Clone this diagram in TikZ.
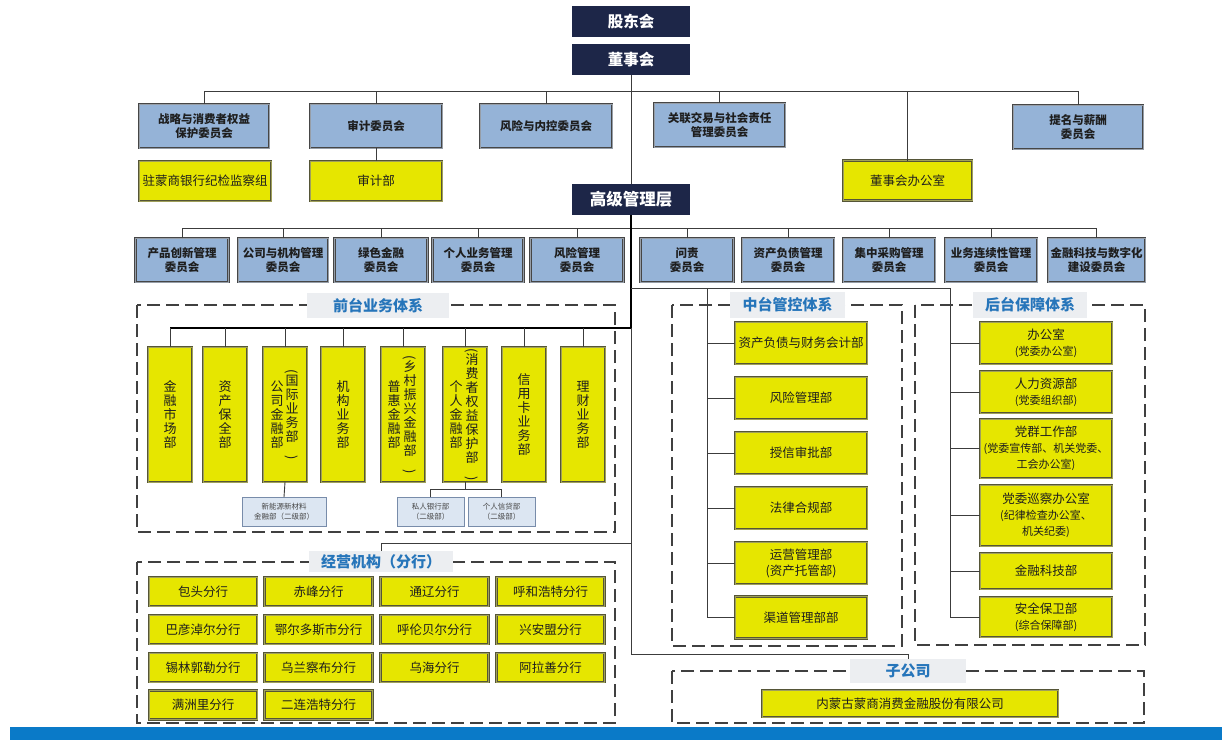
\documentclass[tikz,border=0pt]{standalone}
\usepackage{fontspec}
\usepackage{graphicx}
\newfontfamily\cjk{Noto Sans CJK SC}
\definecolor{navy}{RGB}{29,38,72}
\definecolor{cblue}{RGB}{149,179,215}
\definecolor{cbord}{RGB}{70,70,70}
\definecolor{cdbl}{RGB}{150,158,168}
\definecolor{yel}{RGB}{230,230,0}
\definecolor{ybord}{RGB}{85,85,55}
\definecolor{ydbl}{RGB}{160,160,90}
\definecolor{sblue}{RGB}{220,230,242}
\definecolor{sbord}{RGB}{120,140,170}
\definecolor{stxt}{RGB}{70,70,70}
\definecolor{txt}{RGB}{30,30,30}
\definecolor{ttl}{RGB}{38,117,186}
\definecolor{tbg}{RGB}{236,238,241}
\definecolor{ln}{RGB}{60,60,60}
\definecolor{frm}{RGB}{64,64,64}
\definecolor{barblue}{RGB}{10,122,200}
\newcommand\smf{\fontsize{11}{15}\selectfont}
\newcommand\vlp{\rotatebox{-90}{(}}
\newcommand\vrp{\rotatebox{-90}{)}}
\tikzset{
 every node/.style={inner sep=0pt, outer sep=0pt},
 nbox/.style={fill=navy, text=white, font={\cjk\bfseries\fontsize{15.5}{18}\selectfont}, minimum width=118pt, minimum height=31pt},
 cbox/.style={fill=cblue, draw=cbord, double=cdbl, line width=0.6pt, double distance=1pt, align=center, text=txt, font={\cjk\bfseries\fontsize{11.5}{14.5}\selectfont}},
 ybox/.style={fill=yel, draw=ybord, double=ydbl, line width=0.6pt, double distance=1pt, align=center, text=txt, font={\cjk\fontsize{12.5}{16}\selectfont}},
 vtxt/.style={align=center, text=txt, font={\cjk\fontsize{13}{14}\selectfont}},
 sbox/.style={fill=sblue, draw=sbord, line width=0.6pt, align=center, text=stxt, font={\cjk\fontsize{7.5}{10}\selectfont}},
 tbox/.style={fill=tbg, text=ttl, font={\cjk\bfseries\fontsize{15}{18}\selectfont}},
 conn/.style={draw=ln, line width=0.9pt},
 spine/.style={draw=black, line width=1.8pt},
 dframe/.style={draw=frm, line width=1.6pt, dash pattern=on 13pt off 6pt},
}
\begin{document}
\begin{tikzpicture}[x=1pt,y=-1pt]
\fill[white] (0,0) rectangle (1222,740);
\useasboundingbox (0,0) rectangle (1222,740);

% dashed frames
\draw[dframe] (137,305) rectangle (615,532);
\draw[dframe] (672,305) rectangle (902,646);
\draw[dframe] (915,305) rectangle (1145,645);
\draw[dframe] (137,562) rectangle (615,723);
\draw[dframe] (672,671) rectangle (1144,723);

% top
\node[nbox] (gd) at (631,21.5) {股东会};
\node[nbox] (dsh) at (631,59.5) {董事会};
\node[nbox, font={\cjk\bfseries\fontsize{16.5}{19}\selectfont}] (gj) at (631,199.5) {高级管理层};

% board committees
\node[cbox, minimum width=130pt, minimum height=44pt] (c1) at (204,126) {战略与消费者权益\\保护委员会};
\node[cbox, minimum width=132pt, minimum height=44pt] (c2) at (376,126) {审计委员会};
\node[cbox, minimum width=132pt, minimum height=44pt] (c3) at (546,126) {风险与内控委员会};
\node[cbox, minimum width=131pt, minimum height=44pt] (c4) at (719.5,125) {关联交易与社会责任\\管理委员会};
\node[cbox, minimum width=130pt, minimum height=44pt] (c5) at (1078,127) {提名与薪酬\\委员会};

\node[ybox, minimum width=132pt, minimum height=40pt] (y1) at (205,181) {驻蒙商银行纪检监察组};
\node[ybox, minimum width=132pt, minimum height=40pt] (y2) at (376,181) {审计部};
\node[ybox, minimum width=129pt, minimum height=40pt] (y3) at (907.5,180.5) {董事会办公室};

% management committees
\node[cbox, minimum width=93pt, minimum height=44pt] (m1) at (182,260) {产品创新管理\\委员会};
\node[cbox, minimum width=90pt, minimum height=44pt] (m2) at (283,260) {公司与机构管理\\委员会};
\node[cbox, minimum width=93pt, minimum height=44pt] (m3) at (381,260) {绿色金融\\委员会};
\node[cbox, minimum width=91pt, minimum height=44pt] (m4) at (478,260) {个人业务管理\\委员会};
\node[cbox, minimum width=93pt, minimum height=44pt] (m5) at (577,260) {风险管理\\委员会};
\node[cbox, minimum width=93pt, minimum height=44pt] (m6) at (687,260) {问责\\委员会};
\node[cbox, minimum width=92pt, minimum height=44pt] (m7) at (788,260) {资产负债管理\\委员会};
\node[cbox, minimum width=92pt, minimum height=44pt] (m8) at (889,260) {集中采购管理\\委员会};
\node[cbox, minimum width=92pt, minimum height=44pt] (m9) at (991,260) {业务连续性管理\\委员会};
\node[cbox, minimum width=97pt, minimum height=44pt] (m10) at (1096.5,260) {金融科技与数字化\\建设委员会};

% front office
\node[ybox, minimum width=44pt, minimum height=135pt] (f1) at (170,414.5) {};
\node[ybox, minimum width=44pt, minimum height=135pt] (f2) at (225,414.5) {};
\node[ybox, minimum width=44pt, minimum height=135pt] (f3) at (285,414.5) {};
\node[ybox, minimum width=44pt, minimum height=135pt] (f4) at (343,414.5) {};
\node[ybox, minimum width=44pt, minimum height=135pt] (f5) at (403,414.5) {};
\node[ybox, minimum width=44pt, minimum height=135pt] (f6) at (465,414.5) {};
\node[ybox, minimum width=44pt, minimum height=135pt] (f7) at (524,414.5) {};
\node[ybox, minimum width=44pt, minimum height=135pt] (f8) at (583,414.5) {};
\node[vtxt] (f1t) at (f1) {金\\融\\市\\场\\部};
\node[vtxt] (f2t) at (f2) {资\\产\\保\\全\\部};
\node[vtxt] (f3t) at ([xshift=-8pt]f3.center) {公\\司\\金\\融\\部};
\node[vtxt] (f3p) at ([xshift=7pt]f3.center) {\vlp\\国\\际\\业\\务\\部\\\vrp};
\node[vtxt] (f4t) at (f4) {机\\构\\业\\务\\部};
\node[vtxt] (f5t) at ([xshift=-9pt]f5.center) {普\\惠\\金\\融\\部};
\node[vtxt] (f5p) at ([xshift=7pt]f5.center) {\vlp\\乡\\村\\振\\兴\\金\\融\\部\\\vrp};
\node[vtxt] (f6t) at ([xshift=-9pt]f6.center) {个\\人\\金\\融\\部};
\node[vtxt] (f6p) at ([xshift=7pt]f6.center) {\vlp\\消\\费\\者\\权\\益\\保\\护\\部\\\vrp};
\node[vtxt] (f7t) at (f7) {信\\用\\卡\\业\\务\\部};
\node[vtxt] (f8t) at (f8) {理\\财\\业\\务\\部};

\node[sbox, minimum width=84pt, minimum height=29pt] (s1) at (284,511.5) {新能源新材料\\金融部（二级部）};
\node[sbox, minimum width=67pt, minimum height=29pt] (s2) at (430.5,511.5) {私人银行部\\（二级部）};
\node[sbox, minimum width=67pt, minimum height=29pt] (s3) at (501.5,511.5) {个人信贷部\\（二级部）};

% middle office
\node[ybox, minimum width=132pt, minimum height=42pt] (d1) at (801,343) {资产负债与财务会计部};
\node[ybox, minimum width=132pt, minimum height=42pt] (d2) at (801,398) {风险管理部};
\node[ybox, minimum width=132pt, minimum height=42pt] (d3) at (801,453) {授信审批部};
\node[ybox, minimum width=132pt, minimum height=42pt] (d4) at (801,508) {法律合规部};
\node[ybox, minimum width=132pt, minimum height=42pt] (d5) at (801,563) {运营管理部\\(资产托管部)};
\node[ybox, minimum width=132pt, minimum height=42pt] (d6) at (801,617.5) {渠道管理部部};

% back office
\node[ybox, minimum width=132pt, minimum height=42pt] (b1) at (1046,343) {办公室\\{\smf (党委办公室)}};
\node[ybox, minimum width=132pt, minimum height=42pt] (b2) at (1046,392) {人力资源部\\{\smf (党委组织部)}};
\node[ybox, minimum width=132pt, minimum height=59pt] (b3) at (1046,448.5) {党群工作部\\{\smf (党委宣传部、机关党委、}\\{\smf 工会办公室)}};
\node[ybox, minimum width=132pt, minimum height=61pt] (b4) at (1046,515.5) {党委巡察办公室\\{\smf (纪律检查办公室、}\\{\smf 机关纪委)}};
\node[ybox, minimum width=132pt, minimum height=36pt] (b5) at (1046,571) {金融科技部};
\node[ybox, minimum width=132pt, minimum height=40pt] (b6) at (1046,617) {安全保卫部\\{\smf (综合保障部)}};

% branches
\node[ybox, minimum width=108pt, minimum height=29pt] (r1) at (203,591.5) {包头分行};
\node[ybox, minimum width=108pt, minimum height=29pt] (r2) at (318.5,591.5) {赤峰分行};
\node[ybox, minimum width=108pt, minimum height=29pt] (r3) at (434.5,591.5) {通辽分行};
\node[ybox, minimum width=108pt, minimum height=29pt] (r4) at (550.5,591.5) {呼和浩特分行};
\node[ybox, minimum width=108pt, minimum height=29pt] (r5) at (203,629.5) {巴彦淖尔分行};
\node[ybox, minimum width=108pt, minimum height=29pt] (r6) at (318.5,629.5) {鄂尔多斯市分行};
\node[ybox, minimum width=108pt, minimum height=29pt] (r7) at (434.5,629.5) {呼伦贝尔分行};
\node[ybox, minimum width=108pt, minimum height=29pt] (r8) at (550.5,629.5) {兴安盟分行};
\node[ybox, minimum width=108pt, minimum height=29pt] (r9) at (203,667.5) {锡林郭勒分行};
\node[ybox, minimum width=108pt, minimum height=29pt] (r10) at (318.5,667.5) {乌兰察布分行};
\node[ybox, minimum width=108pt, minimum height=29pt] (r11) at (434.5,667.5) {乌海分行};
\node[ybox, minimum width=108pt, minimum height=29pt] (r12) at (550.5,667.5) {阿拉善分行};
\node[ybox, minimum width=108pt, minimum height=29pt] (r13) at (203,705) {满洲里分行};
\node[ybox, minimum width=108pt, minimum height=29pt] (r14) at (318.5,705) {二连浩特分行};

% subsidiary
\node[ybox, minimum width=296pt, minimum height=27pt, font={\cjk\fontsize{12.5}{15}\selectfont}] (sub) at (910,703.5) {内蒙古蒙商消费金融股份有限公司};

% titles
\node[tbox, minimum width=142pt, minimum height=25pt] (tf) at (378,305.5) {前台业务体系};
\node[tbox, minimum width=115pt, minimum height=26pt] (tm) at (787.5,305) {中台管控体系};
\node[tbox, minimum width=114pt, minimum height=26pt] (tb) at (1030,305) {后台保障体系};
\node[tbox, minimum width=144pt, minimum height=21pt] (tbr) at (381,561.5) {经营机构（分行）};
\node[tbox, minimum width=116pt, minimum height=24pt] (ts) at (908,671) {子公司};

% coordinates for buses
\coordinate (bus1) at (631,91);
\coordinate (bus2) at (631,228);
\coordinate (mb) at (631,288);
\coordinate (mbus) at (707,288);
\coordinate (bbus) at (950,288);
\coordinate (fb) at (631,328);
\coordinate (brb) at (631,543);
\coordinate (sb) at (631,654);
\coordinate (pb) at (465,489);

% board connectors
\draw[conn] (dsh.south) -- (gj.north);
\draw[conn] (c1.north) -- (c1.north |- bus1) -- (c5.north |- bus1) -- (c5.north);
\draw[conn] (c2.north) -- (c2.north |- bus1);
\draw[conn] (c3.north) -- (c3.north |- bus1);
\draw[conn] (c4.north) -- (c4.north |- bus1);
\draw[conn] (y3.north) -- (y3.north |- bus1);
\draw[conn] (c2.south) -- (y2.north);

% management connectors
\draw[conn] (m1.north) -- (m1.north |- bus2) -- (m10.north |- bus2) -- (m10.north);
\foreach \n in {m2,m3,m4,m5,m6,m7,m8,m9}
  \draw[conn] (\n.north) -- (\n.north |- bus2);

% spine
\draw[spine] (gj.south) -- (fb) -- (f1.north |- fb);
\foreach \n in {f1,f2,f3,f4,f5,f6,f7,f8}
  \draw[conn] (\n.north) -- (\n.north |- fb);
\draw[conn] (fb) -- (sb) -| (ts.north);
\draw[conn] (brb) -| (tbr.north);

% front sub-departments
\draw[conn] (f3.south) -- (s1.north);
\draw[conn] (f6.south) -- (pb);
\draw[conn] (s2.north) |- (pb) -| (s3.north);

% middle and back buses
\draw[conn] (mb) -- (bbus);
\draw[conn] (mbus) -- (mbus |- d6.west) -- (d6.west);
\foreach \n in {d1,d2,d3,d4,d5}
  \draw[conn] (\n.west -| mbus) -- (\n.west);
\draw[conn] (bbus) -- (bbus |- b6.west) -- (b6.west);
\foreach \n in {b1,b2,b3,b4,b5}
  \draw[conn] (\n.west -| bbus) -- (\n.west);

% bottom bar
\fill[barblue] (10,727) rectangle (1222,740);
\end{tikzpicture}
\end{document}
